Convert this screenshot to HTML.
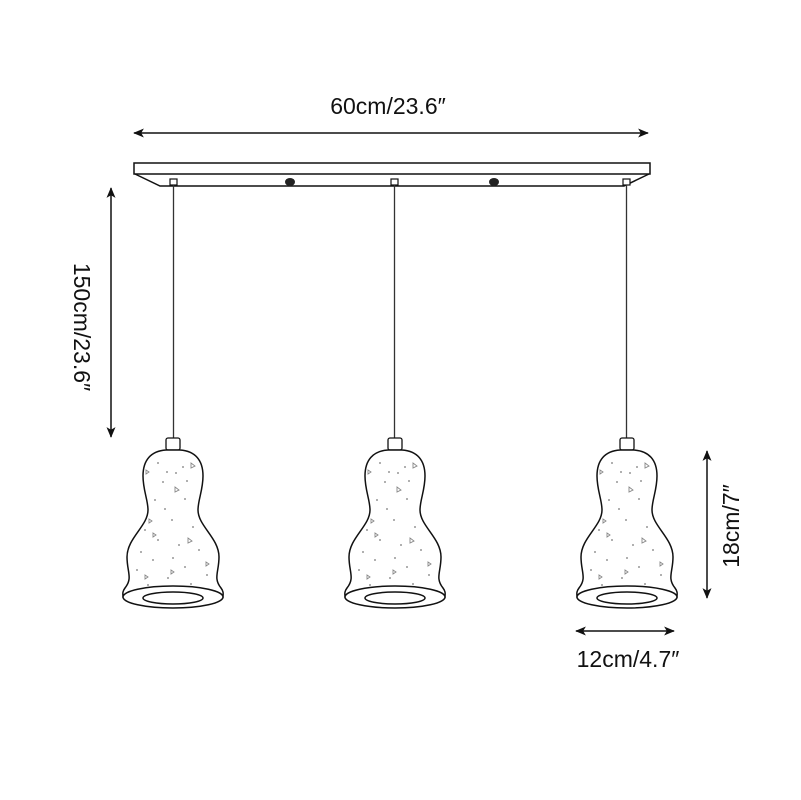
<!DOCTYPE html>
<html><head><style>html,body{margin:0;padding:0;background:#fff}svg{display:block}</style></head>
<body>
<svg width="801" height="800" viewBox="0 0 801 800" xmlns="http://www.w3.org/2000/svg" font-family="Liberation Sans, Arial, sans-serif">
<defs>
<marker id="ah" viewBox="0 0 12 10" refX="11" refY="5" markerWidth="12" markerHeight="9" markerUnits="userSpaceOnUse" orient="auto-start-reverse">
<path d="M0,0 L12,5 L0,10 L3,5 Z" fill="#111"/>
</marker>
<g id="lamp">
<rect x="-7" y="438" width="14" height="12" rx="2" fill="#fff" stroke="#111" stroke-width="1.3"/>
<path d="M-7,450 C-22,451 -30,460 -30,476 C-30,490 -25,500 -25,510 C-25,526 -46,538 -46,557 C-46,572 -40,578 -48,588 C-51,592 -50,594 -50,597
 L50,597 C50,594 51,592 48,588 C40,578 46,572 46,557 C46,538 25,526 25,510 C25,500 30,490 30,476 C30,460 22,451 7,450 Z" fill="#fff" stroke="#111" stroke-width="1.5"/>
<ellipse cx="0" cy="597" rx="50" ry="11" fill="#fff" stroke="#111" stroke-width="1.5"/>
<ellipse cx="0" cy="598" rx="30" ry="6" fill="#fff" stroke="#111" stroke-width="1.5"/>
<g fill="#777">
<circle cx="-15" cy="463" r="0.9"/><circle cx="10" cy="467" r="0.9"/><circle cx="-6" cy="472" r="0.9"/><circle cx="3" cy="473" r="0.9"/>
<circle cx="-10" cy="482" r="0.9"/><circle cx="14" cy="481" r="0.9"/><circle cx="-18" cy="500" r="0.9"/><circle cx="-8" cy="509" r="0.9"/>
<circle cx="12" cy="499" r="0.9"/><circle cx="-1" cy="520" r="0.9"/><circle cx="-28" cy="530" r="0.9"/><circle cx="20" cy="527" r="0.9"/>
<circle cx="-15" cy="540" r="0.9"/><circle cx="6" cy="545" r="0.9"/><circle cx="-32" cy="552" r="0.9"/><circle cx="26" cy="550" r="0.9"/>
<circle cx="-20" cy="560" r="0.9"/><circle cx="0" cy="558" r="0.9"/><circle cx="12" cy="567" r="0.9"/><circle cx="-36" cy="570" r="0.9"/>
<circle cx="34" cy="575" r="0.9"/><circle cx="-5" cy="578" r="0.9"/><circle cx="18" cy="584" r="0.9"/><circle cx="-25" cy="585" r="0.9"/>
</g>
<g fill="none" stroke="#888" stroke-width="0.9">
<path d="M18,463 l4,3 l-4,2 z"/><path d="M-27,470 l3,2 l-3,2 z"/><path d="M2,487 l4,3 l-4,2 z"/><path d="M-24,519 l3,2 l-3,2 z"/>
<path d="M-20,533 l3,2 l-3,2 z"/><path d="M15,538 l4,3 l-4,2 z"/><path d="M-28,575 l3,2 l-3,2 z"/><path d="M33,562 l3,2 l-3,2 z"/><path d="M-2,570 l3,2 l-3,2 z"/>
</g>
</g>
</defs>
<rect x="134" y="163" width="516" height="11" fill="#fff" stroke="#111" stroke-width="1.5"/>
<path d="M135,174 L160,186 L624,186 L649,174" fill="none" stroke="#111" stroke-width="1.5"/>
<rect x="170" y="179" width="7" height="6" fill="#fff" stroke="#111" stroke-width="1.2"/>
<rect x="391" y="179" width="7" height="6" fill="#fff" stroke="#111" stroke-width="1.2"/>
<rect x="623" y="179" width="7" height="6" fill="#fff" stroke="#111" stroke-width="1.2"/>
<ellipse cx="290" cy="182" rx="5" ry="4" fill="#222"/>
<ellipse cx="494" cy="182" rx="5" ry="4" fill="#222"/>
<line x1="173.5" y1="185" x2="173.5" y2="438" stroke="#333" stroke-width="1.3"/>
<line x1="394.5" y1="185" x2="394.5" y2="438" stroke="#333" stroke-width="1.3"/>
<line x1="626.5" y1="185" x2="626.5" y2="438" stroke="#333" stroke-width="1.3"/>
<use href="#lamp" x="173"/>
<use href="#lamp" x="395"/>
<use href="#lamp" x="627"/>
<line x1="134" y1="133" x2="648" y2="133" stroke="#111" stroke-width="1.5" marker-start="url(#ah)" marker-end="url(#ah)"/>
<text x="388" y="114" font-size="23" text-anchor="middle" fill="#111">60cm/23.6″</text>
<line x1="111" y1="188" x2="111" y2="437" stroke="#111" stroke-width="1.5" marker-start="url(#ah)" marker-end="url(#ah)"/>
<text transform="translate(74,327) rotate(90)" font-size="23" text-anchor="middle" fill="#111">150cm/23.6″</text>
<line x1="707" y1="451" x2="707" y2="598" stroke="#111" stroke-width="1.5" marker-start="url(#ah)" marker-end="url(#ah)"/>
<text transform="translate(739,526) rotate(-90)" font-size="23" text-anchor="middle" fill="#111">18cm/7″</text>
<line x1="576" y1="631" x2="674" y2="631" stroke="#111" stroke-width="1.5" marker-start="url(#ah)" marker-end="url(#ah)"/>
<text x="628" y="667" font-size="23" text-anchor="middle" fill="#111">12cm/4.7″</text>
</svg>
</body></html>
